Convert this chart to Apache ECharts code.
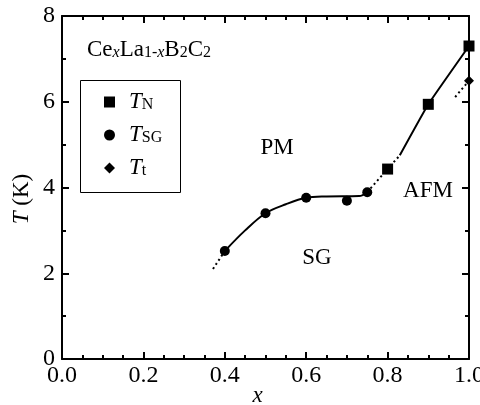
<!DOCTYPE html>
<html>
<head>
<meta charset="utf-8">
<script src="https://cdn.jsdelivr.net/npm/echarts@6/dist/echarts.min.js"></script>
<style>
html, body { margin: 0; padding: 0; background: #fff; }
#chart { width: 480px; height: 405px; }
</style>
</head>
<body>
<div id="chart"></div>
<script>
// measured points
const xN = [0.8, 0.9, 1.0];
const yN = [4.43, 5.94, 7.30];
const xSG = [0.4, 0.5, 0.6, 0.7, 0.75];
const ySG = [2.52, 3.40, 3.76, 3.69, 3.89];
const xT = [1.0];
const yT = [6.49];

// guide lines
const sgLineX = [0.4, 0.45, 0.5, 0.55, 0.6, 0.65, 0.73, 0.75];
const sgLineY = [2.52, 3.0, 3.40, 3.61, 3.76, 3.79, 3.80, 3.89];
const afmLineX = [0.83, 0.9, 1.0];
const afmLineY = [4.75, 5.94, 7.30];
const lowDotX = [0.371, 0.4];
const lowDotY = [2.10, 2.52];
const midDotX = [0.75, 0.8, 0.83];
const midDotY = [3.89, 4.43, 4.75];
const ttDotX = [0.966, 1.0];
const ttDotY = [6.11, 6.49];

const xTicks = ['0.0', '0.2', '0.4', '0.6', '0.8', '1.0'];
const yTicks = ['0', '2', '4', '6', '8'];

const FONT = '"Liberation Serif", "DejaVu Serif", serif';
const pairs = (xs, ys) => xs.map((x, i) => [x, ys[i]]);

const chart = echarts.init(document.getElementById('chart'));

const axisCommon = {
    type: 'value',
    axisLine: { show: true, onZero: false, lineStyle: { color: '#000', width: 2 } },
    axisTick: { show: true, inside: true, length: 7, lineStyle: { color: '#000', width: 2 } },
    minorTick: { show: true, length: 4, lineStyle: { color: '#000', width: 2 } },
    splitLine: { show: false }
};

function line(xs, ys, dotted, smooth) {
    return {
        type: 'line',
        data: pairs(xs, ys),
        showSymbol: false,
        silent: true,
        clip: false,
        smooth: smooth || false,
        lineStyle: { color: '#000', width: 2, type: dotted ? [2, 3] : 'solid' },
        z: 2
    };
}

function points(name, xs, ys, symbol, size) {
    return {
        name: name,
        type: 'scatter',
        data: pairs(xs, ys),
        symbol: symbol,
        symbolSize: size,
        clip: false,
        itemStyle: { color: '#000', opacity: 1 },
        z: 3
    };
}

const legendRich = {
    g: { width: 9 },
    i: { fontFamily: FONT, fontStyle: 'italic', fontSize: 23, lineHeight: 22, verticalAlign: 'bottom', color: '#000' },
    s: { fontFamily: FONT, fontSize: 16, lineHeight: 16, verticalAlign: 'bottom', color: '#000' }
};
const legendSubs = { 'T_N': 'N', 'T_SG': 'SG', 'T_t': 't' };

chart.setOption({
    animation: false,
    backgroundColor: '#fff',
    grid: { left: 62, right: 11, top: 16, bottom: 46, outerBoundsMode: 'none' },
    xAxis: [
        Object.assign({}, axisCommon, {
            min: 0, max: 1, interval: 0.2,
            minorTick: Object.assign({}, axisCommon.minorTick, { splitNumber: 4 }),
            axisLabel: {
                fontFamily: FONT, fontSize: 24, color: '#000', margin: 5,
                formatter: (v) => xTicks[Math.round(v / 0.2)]
            },
            name: 'x',
            nameLocation: 'middle',
            nameGap: 25,
            nameMoveOverlap: false,
            nameTextStyle: { fontFamily: FONT, fontStyle: 'italic', fontSize: 23, color: '#000', padding: [0, 16, 0, 0] }
        }),
        Object.assign({}, axisCommon, {
            position: 'top',
            min: 0, max: 1, interval: 0.2,
            minorTick: Object.assign({}, axisCommon.minorTick, { splitNumber: 4 }),
            axisLabel: { show: false }
        })
    ],
    yAxis: [
        Object.assign({}, axisCommon, {
            min: 0, max: 8, interval: 2,
            minorTick: Object.assign({}, axisCommon.minorTick, { splitNumber: 2 }),
            axisLabel: {
                fontFamily: FONT, fontSize: 24, color: '#000', margin: 7,
                formatter: (v) => yTicks[Math.round(v / 2)]
            }
        }),
        Object.assign({}, axisCommon, {
            position: 'right',
            min: 0, max: 8, interval: 2,
            minorTick: Object.assign({}, axisCommon.minorTick, { splitNumber: 2 }),
            axisLabel: { show: false }
        })
    ],
    legend: {
        orient: 'vertical',
        left: 104,
        top: 90,
        padding: 0,
        itemGap: 10,
        itemWidth: 11,
        itemHeight: 11,
        data: [
            { name: 'T_N', icon: 'rect' },
            { name: 'T_SG', icon: 'circle' },
            { name: 'T_t', icon: 'diamond' }
        ],
        formatter: (name) => '{g|}{i|T}{s|' + legendSubs[name] + '}',
        textStyle: { rich: legendRich },
        selectedMode: false
    },
    graphic: [
        {
            type: 'rect',
            shape: { x: 80.5, y: 80.5, width: 100, height: 112 },
            style: { fill: 'none', stroke: '#000', lineWidth: 1 },
            z: 10
        },
        {
            type: 'text',
            left: 87, top: 38,
            style: {
                text: '{n|Ce}{si|x}{n|La}{s|1-}{si|x}{n|B}{s|2}{n|C}{s|2}',
                rich: {
                    n: { fontFamily: FONT, fontSize: 23, lineHeight: 24, verticalAlign: 'bottom', fill: '#000' },
                    s: { fontFamily: FONT, fontSize: 16, lineHeight: 10, verticalAlign: 'bottom', fill: '#000' },
                    si: { fontFamily: FONT, fontSize: 16, fontStyle: 'italic', lineHeight: 10, verticalAlign: 'bottom', fill: '#000' }
                }
            }
        },
        {
            type: 'text',
            x: 22, y: 199,
            rotation: Math.PI / 2,
            style: {
                text: '{i|T} (K)',
                align: 'center',
                verticalAlign: 'middle',
                rich: {
                    i: { fontFamily: FONT, fontStyle: 'italic', fontSize: 23, fill: '#000' }
                },
                fontFamily: FONT, fontSize: 23, fill: '#000'
            }
        },
        { type: 'text', x: 277, y: 148, style: { text: 'PM', align: 'center', verticalAlign: 'middle', fontFamily: FONT, fontSize: 23, fill: '#000' } },
        { type: 'text', x: 317, y: 258, style: { text: 'SG', align: 'center', verticalAlign: 'middle', fontFamily: FONT, fontSize: 23, fill: '#000' } },
        { type: 'text', x: 428, y: 191, style: { text: 'AFM', align: 'center', verticalAlign: 'middle', fontFamily: FONT, fontSize: 23, fill: '#000' } }
    ],
    series: [
        line(sgLineX, sgLineY, false, 0.35),
        line(afmLineX, afmLineY, false, 0.1),
        line(lowDotX, lowDotY, true),
        line(midDotX, midDotY, true),
        line(ttDotX, ttDotY, true),
        points('T_N', xN, yN, 'rect', 11),
        points('T_SG', xSG, ySG, 'circle', 10),
        points('T_t', xT, yT, 'diamond', 10)
    ]
});
</script>
</body>
</html>
